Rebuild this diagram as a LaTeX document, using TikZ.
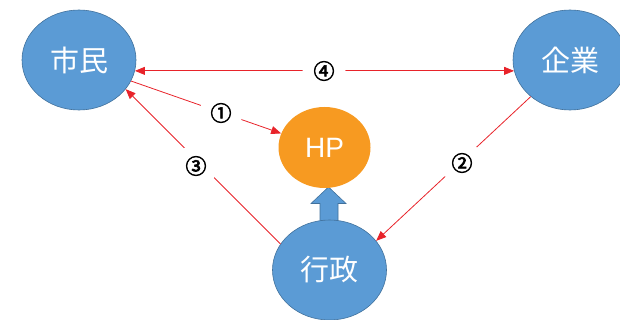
\documentclass[tikz,border=0pt]{standalone}
\usepackage{fontspec}
\setmainfont{Noto Sans CJK JP}
\newfontfamily\latinsans{Liberation Sans}
\newfontfamily\numfont[FakeBold=3]{Noto Sans CJK JP}
\usetikzlibrary{arrows.meta,shapes.geometric}
\definecolor{nodeblue}{HTML}{5B9BD5}
\definecolor{nodeedge}{HTML}{41719C}
\definecolor{hporange}{HTML}{F79A21}
\definecolor{linkred}{HTML}{E8232A}
\tikzset{
  actor/.style={ellipse, fill=nodeblue, draw=nodeedge, line width=0.6pt,
    minimum width=114pt, minimum height=100pt, inner sep=0pt,
    text=white, font=\fontsize{29}{29}\selectfont},
  hpnode/.style={ellipse, fill=hporange, minimum width=92pt, minimum height=81pt,
    inner sep=0pt, text=white, font=\latinsans\fontsize{28}{28}\selectfont},
  link/.style={draw=linkred, line width=0.8pt,
    -{Triangle[length=10pt,width=8pt]}},
  numlabel/.style={circle, fill=white, minimum size=43pt, inner sep=0pt,
    font=\numfont\fontsize{21}{21}\selectfont},
}
\begin{document}
\begin{tikzpicture}[x=1pt,y=-1pt]
\useasboundingbox (0,0) rectangle (620,320);
% blue block arrow from 行政 to HP
\filldraw[fill=nodeblue, draw=nodeedge, line width=0.6pt]
  (320,222) -- (320,203.5) -- (311,203.5) -- (328.5,187) -- (346,203.5)
  -- (338,203.5) -- (338,222) -- cycle;
\node[actor] (simin) at (79,60) {市民};
\node[actor] (kigyo) at (570,60) {企業};
\node[hpnode] (hp) at (324.5,147.5) {HP};
\node[actor] (gyosei) at (329.5,270) {行政};
% connectors
\draw[link,{Triangle[length=10pt,width=8pt]}-{Triangle[length=10pt,width=8pt]}]
  (simin.-11) -- (kigyo.191);
\draw[link] (simin.-22) -- (hp.162);
\draw[link] (gyosei.152) -- (simin.-32);
\draw[link] (kigyo.-137) -- (gyosei.32);
% labels
\node[numlabel] (n4) at (324,71) {④};
\node[numlabel] (n1) at (221,113) {①};
\node[numlabel] (n3) at (196,166) {③};
\node[numlabel] (n2) at (462,163) {②};
\end{tikzpicture}
\end{document}
